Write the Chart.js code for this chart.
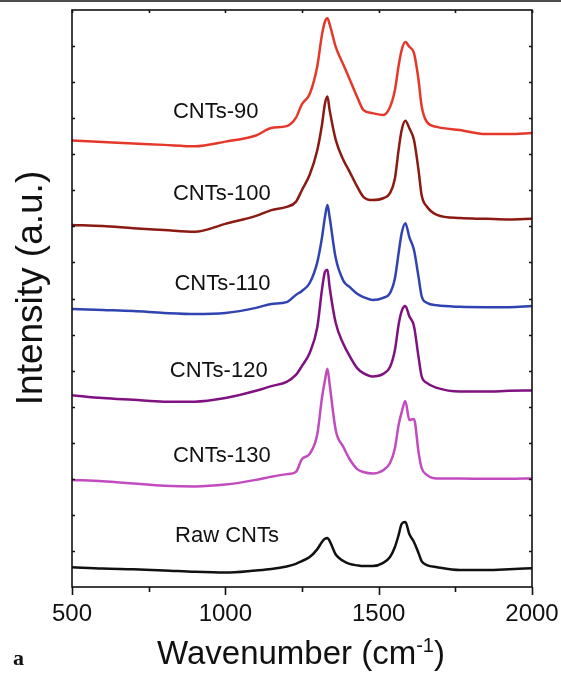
<!DOCTYPE html>
<html>
<head>
<meta charset="utf-8">
<script src="https://cdn.jsdelivr.net/npm/chart.js@4.4.1/dist/chart.umd.min.js"></script>
<style>
  html, body { margin: 0; padding: 0; background: #fff; }
  canvas { display: block; }
</style>
</head>
<body>
<canvas id="raman" width="561" height="676"></canvas>
<script>
// Raman spectra, offset stacked (a.u.)
const wavenumbers = [500, 600, 700, 800, 900, 1000, 1100, 1150, 1200, 1230, 1250, 1275, 1300, 1315, 1325, 1333,
  1340, 1360, 1385, 1405, 1430, 1450, 1480, 1515, 1537, 1553, 1565, 1575, 1587, 1600, 1615, 1630, 1640,
  1657, 1690, 1765, 1850, 1925, 2000];

const cnts90 = [12.38, 12.34, 12.30, 12.26, 12.22, 12.35, 12.52, 12.73, 12.78, 13.01, 13.39, 13.67, 14.45, 15.31, 15.68, 15.77,
  15.61, 14.98, 14.48, 14.09, 13.59, 13.23, 13.14, 13.09, 13.31, 13.78, 14.45, 14.89, 15.11, 14.98, 14.81, 14.06, 13.34,
  12.90, 12.76, 12.67, 12.56, 12.56, 12.59];
const cnts100 = [10.04, 10.01, 9.95, 9.90, 9.85, 10.07, 10.29, 10.45, 10.54, 10.68, 11.01, 11.43, 12.12, 12.81, 13.41, 13.60,
  13.23, 12.40, 11.84, 11.52, 11.10, 10.82, 10.73, 10.78, 10.92, 11.33, 12.12, 12.67, 12.93, 12.72, 12.40, 11.56, 10.87,
  10.55, 10.32, 10.23, 10.21, 10.19, 10.21];
const cnts110 = [7.71, 7.68, 7.65, 7.60, 7.57, 7.60, 7.74, 7.85, 7.90, 8.10, 8.21, 8.43, 9.01, 9.68, 10.27, 10.59,
  10.26, 9.12, 8.49, 8.32, 8.13, 8.04, 7.96, 8.02, 8.15, 8.56, 9.26, 9.81, 10.09, 9.70, 9.35, 8.60, 8.07,
  7.88, 7.81, 7.77, 7.76, 7.76, 7.79];
const cnts120 = [5.32, 5.24, 5.19, 5.14, 5.14, 5.24, 5.44, 5.57, 5.69, 5.88, 6.13, 6.49, 7.21, 8.24, 8.74, 8.80,
  8.32, 7.32, 6.74, 6.41, 6.07, 5.93, 5.84, 5.91, 6.10, 6.57, 7.27, 7.65, 7.79, 7.51, 7.24, 6.38, 5.85,
  5.66, 5.52, 5.42, 5.42, 5.44, 5.45];
const cnts130 = [2.97, 2.93, 2.87, 2.81, 2.79, 2.84, 2.97, 3.06, 3.13, 3.19, 3.55, 3.69, 4.24, 5.24, 5.74, 6.05,
  5.63, 4.35, 3.88, 3.55, 3.27, 3.19, 3.15, 3.24, 3.44, 3.85, 4.49, 4.85, 5.16, 4.63, 4.66, 3.74, 3.30,
  3.11, 3.01, 3.01, 3.00, 3.00, 3.01];
const rawCnts = [0.55, 0.51, 0.49, 0.46, 0.42, 0.40, 0.46, 0.50, 0.57, 0.64, 0.72, 0.83, 1.05, 1.25, 1.34, 1.36,
  1.28, 0.90, 0.72, 0.64, 0.60, 0.58, 0.58, 0.67, 0.83, 1.11, 1.44, 1.75, 1.80, 1.47, 1.25, 0.94, 0.72,
  0.61, 0.55, 0.47, 0.47, 0.49, 0.52];

const seriesNames = ['CNTs-90', 'CNTs-100', 'CNTs-110', 'CNTs-120', 'CNTs-130', 'Raw CNTs'];
const seriesValues = [cnts90, cnts100, cnts110, cnts120, cnts130, rawCnts];
// where each name sits, in data units (wavenumber, intensity)
const labelX = [829, 829, 834, 819, 829, 836];
const labelY = [13.16, 10.90, 8.40, 5.99, 3.63, 1.41];

const xTickLabels = [500, 1000, 1500, 2000];
const xMinorTicks = [750, 1250, 1750];

const colors = ['#e5382b', '#8a1a12', '#3043b0', '#7f1180', '#c24cbf', '#111111'];
const FONT = '"Liberation Sans", Arial, sans-serif';

const decorations = {
  id: 'decorations',
  beforeDraw(chart) {
    const ctx = chart.ctx;
    ctx.save();
    ctx.fillStyle = '#fff';
    ctx.fillRect(0, 0, chart.width, chart.height);
    ctx.restore();
  },
  afterDraw(chart) {
    const { ctx, chartArea: a, scales: { x, y } } = chart;
    ctx.save();
    ctx.strokeStyle = '#111';
    ctx.lineWidth = 1.6;

    // rule across the top of the page
    ctx.beginPath();
    ctx.moveTo(0, 1);
    ctx.lineTo(chart.width, 1);
    ctx.stroke();

    ctx.strokeRect(a.left, a.top, a.right - a.left, a.bottom - a.top);

    ctx.beginPath();
    xTickLabels.concat(xMinorTicks).forEach(v => {
      const px = Math.round(x.getPixelForValue(v)) + 0.5;
      const len = xTickLabels.includes(v) ? 8 : 5;
      ctx.moveTo(px, a.bottom);
      ctx.lineTo(px, a.bottom + len);
      ctx.moveTo(px, a.top);
      ctx.lineTo(px, a.top + 3);
    });
    for (let v = 1; v < 16; v++) {
      const py = Math.round(y.getPixelForValue(v)) + 0.5;
      ctx.moveTo(a.left, py);
      ctx.lineTo(a.left + 3, py);
      ctx.moveTo(a.right, py);
      ctx.lineTo(a.right - 3, py);
    }
    ctx.stroke();

    // curve names
    ctx.fillStyle = '#111';
    ctx.font = '22px ' + FONT;
    ctx.textAlign = 'left';
    ctx.textBaseline = 'middle';
    seriesNames.forEach((name, i) => {
      ctx.fillText(name, x.getPixelForValue(labelX[i]), y.getPixelForValue(labelY[i]));
    });

    // x title with superscript
    const main = 'Wavenumber (cm';
    const sup = '-1';
    ctx.textBaseline = 'alphabetic';
    ctx.font = '33px ' + FONT;
    const wMain = ctx.measureText(main).width;
    const wClose = ctx.measureText(')').width;
    ctx.font = '20px ' + FONT;
    const wSup = ctx.measureText(sup).width;
    let tx = 301 - (wMain + wSup + wClose) / 2;
    ctx.font = '33px ' + FONT;
    ctx.fillText(main, tx, 664);
    tx += wMain;
    ctx.font = '20px ' + FONT;
    ctx.fillText(sup, tx, 652);
    tx += wSup;
    ctx.font = '33px ' + FONT;
    ctx.fillText(')', tx, 664);

    // y title
    ctx.save();
    ctx.translate(42, 288);
    ctx.rotate(-Math.PI / 2);
    ctx.font = '37px ' + FONT;
    ctx.textAlign = 'center';
    ctx.fillText('Intensity (a.u.)', 0, 0);
    ctx.restore();

    // panel letter
    ctx.font = 'bold 22px "Liberation Serif", "Times New Roman", serif';
    ctx.textAlign = 'left';
    ctx.fillText('a', 13, 665);

    ctx.restore();
  }
};

new Chart(document.getElementById('raman'), {
  type: 'line',
  data: {
    datasets: seriesNames.map((name, i) => ({
      label: name,
      data: wavenumbers.map((w, j) => ({ x: w, y: seriesValues[i][j] })),
      borderColor: colors[i],
      borderWidth: 2.5,
      pointRadius: 0,
      cubicInterpolationMode: 'monotone',
      fill: false
    }))
  },
  options: {
    responsive: false,
    animation: false,
    devicePixelRatio: 1,
    layout: { padding: { top: 10, right: 29, left: 0, bottom: 0 } },
    plugins: { legend: { display: false }, tooltip: { enabled: false } },
    scales: {
      x: {
        type: 'linear',
        min: 500,
        max: 2000,
        afterFit: s => { s.height = 89; s.paddingLeft = 0; s.paddingRight = 0; },
        afterBuildTicks: s => { s.ticks = xTickLabels.map(v => ({ value: v })); },
        grid: { display: false, drawTicks: false },
        border: { display: false },
        ticks: {
          padding: 13, color: '#111', font: { family: FONT, size: 24 }, maxRotation: 0, autoSkip: false,
          callback: v => String(v)
        }
      },
      y: {
        min: 0,
        max: 16,
        afterFit: s => { s.width = 72; },
        grid: { display: false, drawTicks: false },
        border: { display: false },
        ticks: { display: false }
      }
    }
  },
  plugins: [decorations]
});
</script>
</body>
</html>
